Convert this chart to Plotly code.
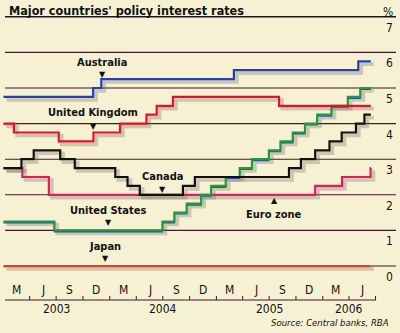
import plotly.graph_objects as go
import pandas as pd

END = "2006-06-15"

aus_dates = ["2003-01-01", "2003-11-05", "2003-12-03", "2005-03-02", "2006-05-03"]
aus_rates = [4.75, 5.00, 5.25, 5.50, 5.75]

uk_dates = ["2003-01-01", "2003-02-06", "2003-07-10", "2003-11-06", "2004-02-05",
            "2004-05-06", "2004-06-10", "2004-08-05", "2005-08-04"]
uk_rates = [4.00, 3.75, 3.50, 3.75, 4.00, 4.25, 4.50, 4.75, 4.50]

can_dates = ["2003-01-01", "2003-03-04", "2003-04-15", "2003-07-15", "2003-09-03",
             "2004-01-20", "2004-03-02", "2004-04-13", "2004-09-08", "2004-10-19",
             "2005-09-07", "2005-10-18", "2005-12-06", "2006-01-24", "2006-03-07",
             "2006-04-25", "2006-05-24"]
can_rates = [2.75, 3.00, 3.25, 3.00, 2.75, 2.50, 2.25, 2.00, 2.25, 2.50,
             2.75, 3.00, 3.25, 3.50, 3.75, 4.00, 4.25]

us_dates = ["2003-01-01", "2003-06-25", "2004-06-30", "2004-08-10", "2004-09-21",
            "2004-11-10", "2004-12-14", "2005-02-02", "2005-03-22", "2005-05-03",
            "2005-06-30", "2005-08-09", "2005-09-20", "2005-11-01", "2005-12-13",
            "2006-01-31", "2006-03-28", "2006-05-10"]
us_rates = [1.25, 1.00, 1.25, 1.50, 1.75, 2.00, 2.25, 2.50, 2.75, 3.00,
            3.25, 3.50, 3.75, 4.00, 4.25, 4.50, 4.75, 5.00]

euro_dates = ["2003-01-01", "2003-03-07", "2003-06-06", "2005-12-06", "2006-03-08", "2006-06-14"]
euro_rates = [2.75, 2.50, 2.00, 2.25, 2.50, 2.75]

jp_dates = ["2003-01-01"]
jp_rates = [0.0]

y_ticks = [0, 1, 2, 3, 4, 5, 6, 7]
month_labels = ["M", "J", "S", "D"] * 3 + ["M", "J"]
quarter_starts = pd.date_range("2003-01-01", "2006-07-01", freq="QS")
year_labels = ["2003", "2004", "2005", "2006"]
year_pos = ["2003-07-01", "2004-07-01", "2005-07-01", "2006-04-01"]

# pixel geometry
PX_PER_DAY = 0.2914
X0 = pd.Timestamp("2003-01-01") - pd.Timedelta(days=3.4 / PX_PER_DAY)
X1 = X0 + pd.Timedelta(days=400 / PX_PER_DAY)
PX_PER_UNIT = 35.6
Y_ZERO_PX = 266.0
Y0 = -(333 - Y_ZERO_PX) / PX_PER_UNIT
Y1 = Y_ZERO_PX / PX_PER_UNIT

def px_to_y(py):
    return (Y_ZERO_PX - py) / PX_PER_UNIT

def px_to_x(px):
    return X0 + pd.Timedelta(days=px / PX_PER_DAY)

BG = "#f7f1d3"
GRID = "#3e1a2a"
FONT = "Liberation Sans Narrow, Arial Narrow, DejaVu Sans Condensed, sans-serif"

fig = go.Figure()

def step_xy(dates, rates):
    xs = list(pd.to_datetime(dates)) + [pd.Timestamp(END)]
    ys = list(rates) + [rates[-1]]
    return xs, ys

series = [
    (jp_dates, jp_rates, "#ee3a1c", "#f2c21c"),
    (euro_dates, euro_rates, "#e8185e", None),
    (us_dates, us_rates, "#1f9a3a", "#2a4db8"),
    (can_dates, can_rates, "#111111", None),
    (uk_dates, uk_rates, "#e3122a", None),
    (aus_dates, aus_rates, "#2340b4", None),
]

sdx = pd.Timedelta(days=3 / PX_PER_DAY)
sdy = 3 / PX_PER_UNIT
for d, r, c, c2 in series:
    xs, ys = step_xy(d, r)
    fig.add_trace(go.Scatter(x=[x + sdx for x in xs], y=[y - sdy for y in ys],
                             mode="lines", line=dict(color="rgba(110,100,90,0.3)", width=3.5, shape="hv"),
                             hoverinfo="skip", showlegend=False))

for d, r, c, c2 in series:
    xs, ys = step_xy(d, r)
    if c2:
        fig.add_trace(go.Scatter(x=xs, y=[y - 1.3 / PX_PER_UNIT for y in ys], mode="lines",
                                 line=dict(color=c2, width=1.4, shape="hv"),
                                 hoverinfo="skip", showlegend=False))
    fig.add_trace(go.Scatter(x=xs, y=ys, mode="lines",
                             line=dict(color=c, width=2.2, shape="hv"),
                             hoverinfo="skip", showlegend=False))

shapes = []
for v in y_ticks:
    shapes.append(dict(type="line", xref="paper", yref="y", x0=5 / 400, x1=396 / 400, y0=v, y1=v,
                       line=dict(color=GRID if v < 7 else "#22121a", width=1.1 if v < 7 else 1.6), layer="below"))
axis_y = px_to_y(300)
shapes.append(dict(type="line", xref="x", yref="y", x0=px_to_x(5), x1=px_to_x(376), y0=axis_y, y1=axis_y,
                   line=dict(color=GRID, width=1.2)))
for q in quarter_starts[1:]:
    shapes.append(dict(type="line", xref="x", yref="y", x0=q, x1=q, y0=axis_y, y1=axis_y + 4 / PX_PER_UNIT,
                       line=dict(color=GRID, width=1)))

ann = []
for v in y_ticks:
    ann.append(dict(x=395 / 400, xref="paper", y=v, yref="y", text=str(v), showarrow=False,
                    xanchor="right", yanchor="top", yshift=-2,
                    font=dict(family=FONT, size=12, color="#111")))
ann.append(dict(x=395 / 400, xref="paper", y=1 - 3 / 333, yref="paper", text="%", showarrow=False,
                xanchor="right", yanchor="top", font=dict(family=FONT, size=12, color="#111")))
ann.append(dict(x=7 / 400, xref="paper", y=1 - 1 / 333, yref="paper",
                text="<b>Major countries' policy interest rates</b>", showarrow=False,
                xanchor="left", yanchor="top", font=dict(family=FONT, size=12.5, color="#111")))
for i, lab in enumerate(month_labels):
    mid = quarter_starts[i] + (quarter_starts[i + 1] - quarter_starts[i]) / 2
    ann.append(dict(x=mid, xref="x", y=px_to_y(290), yref="y", text=lab, showarrow=False,
                    font=dict(family=FONT, size=12, color="#111")))
for lab, pos in zip(year_labels, year_pos):
    ann.append(dict(x=pos, xref="x", y=px_to_y(309), yref="y", text=lab, showarrow=False,
                    font=dict(family=FONT, size=12, color="#111")))
ann.append(dict(x=391 / 400, xref="paper", y=px_to_y(322), yref="y",
                text="<i>Source: Central banks, RBA</i>", showarrow=False, xanchor="right",
                font=dict(family=FONT, size=9.5, color="#111")))

labels = [
    ("Australia", 102, 62, "▼", 74),
    ("United Kingdom", 93, 112, "▼", 126),
    ("Canada", 162, 176, "▼", 189),
    ("United States", 108, 210, "▼", 222),
    ("Japan", 105, 246, "▼", 258),
    ("Euro zone", 274, 214, "▲", 200),
]
for name, px, py, tri, ty in labels:
    ann.append(dict(x=px_to_x(px), xref="x", y=px_to_y(py), yref="y", text="<b>" + name + "</b>",
                    showarrow=False, font=dict(family=FONT, size=11, color="#111")))
    ann.append(dict(x=px_to_x(px), xref="x", y=px_to_y(ty), yref="y", text=tri,
                    showarrow=False, font=dict(family="DejaVu Sans", size=8, color="#111")))

fig.update_layout(
    width=400, height=333, autosize=False,
    margin=dict(l=0, r=0, t=0, b=0),
    paper_bgcolor=BG, plot_bgcolor=BG,
    xaxis=dict(range=[X0, X1], visible=False, fixedrange=True),
    yaxis=dict(range=[Y0, Y1], visible=False, fixedrange=True),
    shapes=shapes, annotations=ann, showlegend=False,
)

fig.write_html("out.html", config={"displayModeBar": False})
